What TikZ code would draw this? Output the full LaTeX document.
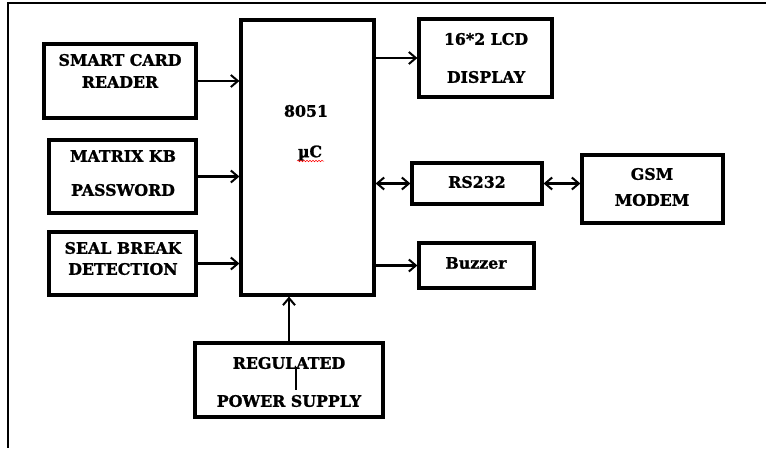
\documentclass[tikz,border=0pt]{standalone}
\usepackage{fontspec}
\setmainfont[BoldFeatures={FakeBold=1.3}]{DejaVu Serif}
\usetikzlibrary{arrows.meta,decorations.pathmorphing}
\begin{document}
\begin{tikzpicture}[x=1pt,y=-1pt,
  box/.style={draw=black,line width=3.2pt,minimum width=#1,inner sep=0pt},
  lbl/.style={font=\fontsize{15.8}{17}\selectfont\bfseries,inner sep=0pt,anchor=center},
  arr/.style={line width=2.4pt,-{Straight Barb[length=7pt,width=12pt,line width=2pt]}},
  darr/.style={line width=2.4pt,{Straight Barb[length=7pt,width=12pt,line width=2pt]}-{Straight Barb[length=7pt,width=12pt,line width=2pt]}}]
\useasboundingbox (0,0) rectangle (766,448);
% frame (only top and left visible)
\coordinate (ftl) at (8,3);
\coordinate (ftr) at (766,3);
\coordinate (fbl) at (8,448);
\draw[line width=2.4pt] (ftr) -- (ftl) -- (fbl);
% boxes
\node[box=152pt,minimum height=74pt] (scr) at (120,81) {};
\node[box=147pt,minimum height=73pt] (mkb) at (122.5,176.5) {};
\node[box=147pt,minimum height=63pt] (sbd) at (122.5,263.5) {};
\node[box=133pt,minimum height=275pt] (mc) at (307.5,157.5) {};
\node[box=188pt,minimum height=74pt] (rps) at (289,380) {};
\node[box=133pt,minimum height=78pt] (lcd) at (485.5,58) {};
\node[box=130pt,minimum height=41pt] (rs) at (477,183.5) {};
\node[box=141pt,minimum height=68pt] (gsm) at (652.5,189) {};
\node[box=115pt,minimum height=45pt] (buz) at (476.5,265.5) {};
% texts
\node[lbl] (t1a) at (120,60) {SMART CARD};
\node[lbl] (t1b) at (120,82) {READER};
\node[lbl] (t2a) at (123,156) {MATRIX KB};
\node[lbl] (t2b) at (123,190) {PASSWORD};
\node[lbl] (t3a) at (123,248) {SEAL BREAK};
\node[lbl] (t3b) at (123,269) {DETECTION};
\node[lbl] (t4a) at (306,111) {8051};
\node[lbl] (t4b) at (310,153) {µC};
\node[lbl] (t5a) at (289,363) {REGULATED};
\node[lbl] (t5b) at (289,401) {POWER SUPPLY};
\node[lbl] (t6a) at (486,39) {16*2 LCD};
\node[lbl] (t6b) at (486,77) {DISPLAY};
\node[lbl] (t7) at (477,182) {RS232};
\node[lbl] (t8a) at (652,174) {GSM};
\node[lbl] (t8b) at (652,200) {MODEM};
\node[lbl] (t9) at (476,263) {Buzzer};
% spell-check squiggle under µC
\coordinate (sq1) at (297,161);
\coordinate (sq2) at (324,161);
\draw[red,line width=0.5pt,decorate,decoration={snake,amplitude=0.8pt,segment length=3pt}] (sq1) -- (sq2);
% stray mark in power supply box
\coordinate (pm1) at (296,367);
\coordinate (pm2) at (296,390);
\draw[line width=1.2pt] (pm1) -- (pm2);
% connectors
\draw[arr] (scr.east) -- (scr.east -| mc.west);
\draw[arr] (mkb.east) -- (mkb.east -| mc.west);
\draw[arr] (sbd.east) -- (sbd.east -| mc.west);
\draw[arr] (rps.north) -- (rps.north |- mc.south);
\draw[arr] (mc.east |- lcd.west) -- (lcd.west);
\draw[darr] (mc.east |- rs.west) -- (rs.west);
\draw[darr] (rs.east) -- (rs.east -| gsm.west);
\draw[arr] (mc.east |- buz.west) -- (buz.west);
\end{tikzpicture}
\end{document}
